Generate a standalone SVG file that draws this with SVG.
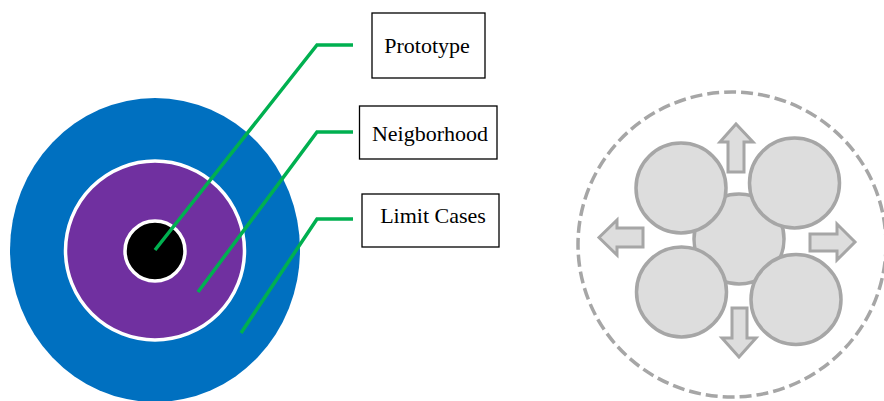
<svg xmlns="http://www.w3.org/2000/svg" width="884" height="401" viewBox="0 0 884 401">
  <style>
    .leader { fill: none; stroke: #00B050; stroke-width: 3.5; }
    .box { fill: #FFFFFF; stroke: #000000; stroke-width: 1.3; }
    .label { font-family: "Liberation Serif", "Times New Roman", serif; font-size: 22px; fill: #000000; text-anchor: middle; }
    .blob { fill: #DDDDDD; stroke: #A6A6A6; stroke-width: 3.5; }
    .arrow { fill: #DDDDDD; stroke: #A6A6A6; stroke-width: 3; stroke-linejoin: miter; }
  </style>
  <rect width="884" height="401" fill="#FFFFFF"/>

  <!-- concentric category rings -->
  <g id="limit-cases-ring">
    <ellipse cx="155" cy="250" rx="145" ry="152" fill="#0070C0"/>
  </g>
  <g id="neighborhood-ring">
    <circle cx="155" cy="250.5" r="89.5" fill="#7030A0" stroke="#FFFFFF" stroke-width="3.5"/>
  </g>
  <g id="prototype-core">
    <circle cx="155" cy="251" r="30" fill="#000000" stroke="#FFFFFF" stroke-width="3.5"/>
  </g>

  <!-- leader lines -->
  <g id="connectors">
    <polyline class="leader" points="155,250 317,45 353,45"/>
    <polyline class="leader" points="198,292 317,132 353,132"/>
    <polyline class="leader" points="241,333 317,219 353,219"/>
  </g>

  <!-- labels -->
  <g id="label-prototype">
    <rect class="box" x="372" y="13" width="113" height="65"/>
    <text class="label" x="427" y="52.5">Prototype</text>
  </g>
  <g id="label-neighborhood">
    <rect class="box" x="359.5" y="106" width="137.5" height="53"/>
    <text class="label" x="430" y="140.5">Neigborhood</text>
  </g>
  <g id="label-limit-cases">
    <rect class="box" x="362" y="194" width="137" height="53"/>
    <text class="label" x="433" y="223">Limit Cases</text>
  </g>

  <!-- expanding cluster -->
  <g id="cluster-boundary">
    <ellipse cx="732" cy="244.5" rx="154" ry="152.5" fill="none" stroke="#A6A6A6" stroke-width="3.5" stroke-dasharray="12 5"/>
  </g>
  <g id="cluster-center">
    <circle class="blob" cx="739" cy="239" r="45"/>
  </g>
  <g id="cluster-top-left">
    <circle class="blob" cx="681" cy="188" r="45"/>
  </g>
  <g id="cluster-top-right">
    <circle class="blob" cx="794.5" cy="183" r="45"/>
  </g>
  <g id="cluster-bottom-left">
    <circle class="blob" cx="681.5" cy="292" r="45"/>
  </g>
  <g id="cluster-bottom-right">
    <circle class="blob" cx="796" cy="299.5" r="45"/>
  </g>

  <g id="arrow-up">
    <polygon class="arrow" points="728,172 728,142 720,142 736,124 753,142 744,142 744,172"/>
  </g>
  <g id="arrow-down">
    <polygon class="arrow" points="732,308 747,308 747,338 756,338 739,357 722,338 732,338"/>
  </g>
  <g id="arrow-left">
    <polygon class="arrow" points="643,228 617,228 617,220 599,237.5 617,255 617,247 643,247"/>
  </g>
  <g id="arrow-right">
    <polygon class="arrow" points="810,234 837,234 837,224 855,242 837,260 837,251 810,251"/>
  </g>
</svg>
